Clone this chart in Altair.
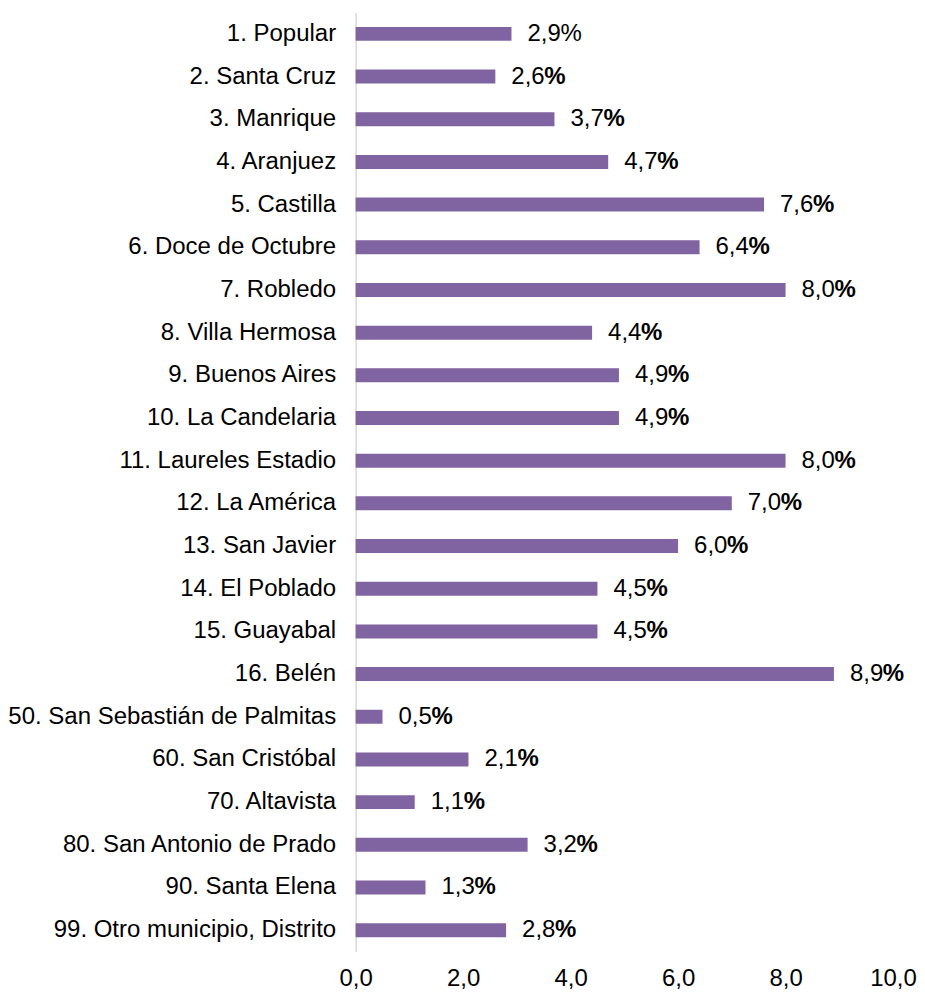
import altair as alt
import pandas as pd

categories = [
    "1. Popular", "2. Santa Cruz", "3. Manrique", "4. Aranjuez", "5. Castilla",
    "6. Doce de Octubre", "7. Robledo", "8. Villa Hermosa", "9. Buenos Aires",
    "10. La Candelaria", "11. Laureles Estadio", "12. La América", "13. San Javier",
    "14. El Poblado", "15. Guayabal", "16. Belén", "50. San Sebastián de Palmitas",
    "60. San Cristóbal", "70. Altavista", "80. San Antonio de Prado",
    "90. Santa Elena", "99. Otro municipio, Distrito",
]
values = [2.9, 2.6, 3.7, 4.7, 7.6, 6.4, 8.0, 4.4, 4.9, 4.9, 8.0, 7.0, 6.0,
          4.5, 4.5, 8.9, 0.5, 2.1, 1.1, 3.2, 1.3, 2.8]
pct_bold = [False] + [True] * 21
x_ticks = [0, 2, 4, 6, 8, 10]

df = pd.DataFrame({"cat": categories, "val": values, "bold": pct_bold})

FONT = "Liberation Sans"
FS = 24
PURPLE = "#8064A2"

base = alt.Chart(df).encode(
    y=alt.Y(
        "cat:N",
        sort=None,
        title=None,
        scale=alt.Scale(paddingInner=0, paddingOuter=0),
        axis=alt.Axis(
            domain=True, domainColor="#d9d9d9", domainWidth=1.5,
            ticks=False, tickSize=0, labelPadding=20, labelLimit=500,
            labelFont=FONT, labelFontSize=FS, labelColor="#000000",
        ),
    )
)

bars = base.mark_bar(color=PURPLE, size=14).encode(
    x=alt.X(
        "val:Q",
        title=None,
        scale=alt.Scale(domain=[0, 10], nice=False),
        axis=alt.Axis(
            values=x_ticks, domain=False, ticks=False, tickSize=0, grid=False,
            labelPadding=15, labelFont=FONT, labelFontSize=FS, labelColor="#000000",
            labelExpr="replace(format(datum.value, '.1f'), '.', ',')",
            labelFlush=False,
        ),
    )
)

nums = base.transform_calculate(
    lbl="replace(format(datum.val, '.1f'), '.', ',')"
).mark_text(
    align="left", baseline="middle", dx=16, font=FONT, fontSize=FS, color="#000000"
).encode(x="val:Q", text="lbl:N")

pct_bold_layer = base.transform_filter("datum.bold").mark_text(
    align="left", baseline="middle", dx=49, font=FONT, fontSize=FS,
    color="#000000", fontWeight="bold"
).encode(x="val:Q", text=alt.value("%"))

pct_plain_layer = base.transform_filter("!datum.bold").mark_text(
    align="left", baseline="middle", dx=49, font=FONT, fontSize=FS,
    color="#000000", fontWeight="normal"
).encode(x="val:Q", text=alt.value("%"))

chart = (bars + nums + pct_bold_layer + pct_plain_layer).properties(
    width=538,
    height=940,
    background="white",
    autosize=alt.AutoSizeParams(type="none"),
    padding={"left": 348, "top": 4, "right": 24, "bottom": 40},
).configure_view(strokeWidth=0, stroke="transparent")

chart.save("out.html", embed_options={"renderer": "svg", "actions": False})
